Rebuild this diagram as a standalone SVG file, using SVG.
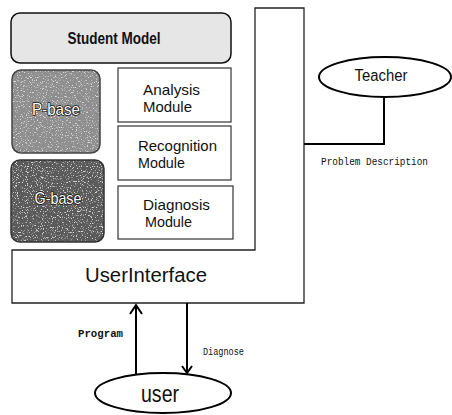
<svg xmlns="http://www.w3.org/2000/svg" width="452" height="415" viewBox="0 0 452 415">
<style>
.frame{fill:#fff;stroke:#222;stroke-width:1.3}
.box{fill:#fff;stroke:#333;stroke-width:1.2}
.rbox{stroke:#111;stroke-width:1.5}
.lbl{font-family:"Liberation Sans",Arial,sans-serif;fill:#111}
.mono{font-family:"Liberation Mono","DejaVu Sans Mono",monospace;fill:#111}
.base{font-family:"Liberation Sans",Arial,sans-serif;fill:#fff;stroke:#111;stroke-width:1.6;paint-order:stroke;stroke-linejoin:round}
.conn{fill:none;stroke:#000;stroke-width:2}
.ell{fill:#fff;stroke:#000;stroke-width:2}
</style>
<defs>
<filter id="speckw" x="0" y="0" width="100%" height="100%" color-interpolation-filters="sRGB">
<feTurbulence type="fractalNoise" baseFrequency="0.8" numOctaves="2" seed="7" result="n"/>
<feColorMatrix in="n" type="matrix" values="0 0 0 0 0.85  0 0 0 0 0.85  0 0 0 0 0.85  -6 0 0 0 2.6" result="d"/>
<feComposite in="d" in2="SourceGraphic" operator="in" result="d2"/>
<feMerge><feMergeNode in="SourceGraphic"/><feMergeNode in="d2"/></feMerge>
</filter>
</defs>
<rect width="452" height="415" fill="#fff"/>

<g id="system">
<polygon class="frame" points="255,8 304,8 304,303 12,303 12,250 255,250"/>
</g>

<g id="student-model">
<rect x="11" y="13" width="220" height="50" rx="9" fill="#e6e6e6" class="rbox"/>
<text class="lbl" x="114" y="44" font-size="16" font-weight="bold" text-anchor="middle" textLength="93" lengthAdjust="spacingAndGlyphs">Student Model</text>
</g>

<g id="p-base">
<rect x="12" y="70" width="88" height="83" rx="9" fill="#8e8e8e" filter="url(#speckw)"/>
<rect x="12" y="70" width="88" height="83" rx="9" fill="none" stroke="#444" stroke-width="1.5"/>
<text class="base" x="56" y="115" font-size="17" text-anchor="middle" textLength="48" lengthAdjust="spacingAndGlyphs">P-base</text>
</g>

<g id="g-base">
<rect x="11" y="160" width="93" height="82" rx="9" fill="#5a5a5a" filter="url(#speckw)"/>
<rect x="11" y="160" width="93" height="82" rx="9" fill="none" stroke="#333" stroke-width="1.5"/>
<text class="base" x="58" y="204" font-size="17" text-anchor="middle" textLength="47" lengthAdjust="spacingAndGlyphs">G-base</text>
</g>

<g id="analysis-module">
<rect class="box" x="118" y="68" width="113" height="54"/>
<text class="lbl" x="143" y="95" font-size="14.5" textLength="57" lengthAdjust="spacingAndGlyphs">Analysis</text>
<text class="lbl" x="143" y="112" font-size="14.5" textLength="49" lengthAdjust="spacingAndGlyphs">Module</text>
</g>

<g id="recognition-module">
<rect class="box" x="118" y="126" width="113" height="54"/>
<text class="lbl" x="138" y="151" font-size="14.5" textLength="79" lengthAdjust="spacingAndGlyphs">Recognition</text>
<text class="lbl" x="138" y="168" font-size="14.5" textLength="47" lengthAdjust="spacingAndGlyphs">Module</text>
</g>

<g id="diagnosis-module">
<rect class="box" x="118" y="186" width="115" height="53"/>
<text class="lbl" x="143" y="210" font-size="14.5" textLength="67" lengthAdjust="spacingAndGlyphs">Diagnosis</text>
<text class="lbl" x="145" y="227" font-size="14.5" textLength="47" lengthAdjust="spacingAndGlyphs">Module</text>
</g>

<g id="user-interface">
<text class="lbl" x="146" y="282" font-size="20" text-anchor="middle" textLength="122" lengthAdjust="spacingAndGlyphs">UserInterface</text>
</g>

<g id="teacher">
<ellipse class="ell" cx="385" cy="77" rx="66" ry="20"/>
<text class="lbl" x="381" y="81" font-size="16" text-anchor="middle" textLength="53" lengthAdjust="spacingAndGlyphs">Teacher</text>
</g>

<g id="user">
<ellipse class="ell" cx="163" cy="393" rx="68" ry="20"/>
<text class="lbl" x="160" y="402" font-size="24" text-anchor="middle" textLength="38" lengthAdjust="spacingAndGlyphs">user</text>
</g>

<g id="connectors">
<polyline class="conn" points="384,97 384,144 304,144"/>
<line class="conn" x1="136" y1="374" x2="136" y2="305"/>
<path class="conn" d="M130,314 L136,305 L142,314"/>
<line class="conn" x1="187" y1="303" x2="187" y2="373"/>
<path class="conn" d="M182,366 L187,373 L192,366"/>
<text class="mono" x="321" y="165" font-size="10" textLength="107" lengthAdjust="spacingAndGlyphs">Problem Description</text>
<text class="mono" x="78" y="337" font-size="10" font-weight="bold" textLength="45" lengthAdjust="spacingAndGlyphs">Program</text>
<text class="mono" x="203" y="355" font-size="10" textLength="41" lengthAdjust="spacingAndGlyphs">Diagnose</text>
</g>
</svg>
